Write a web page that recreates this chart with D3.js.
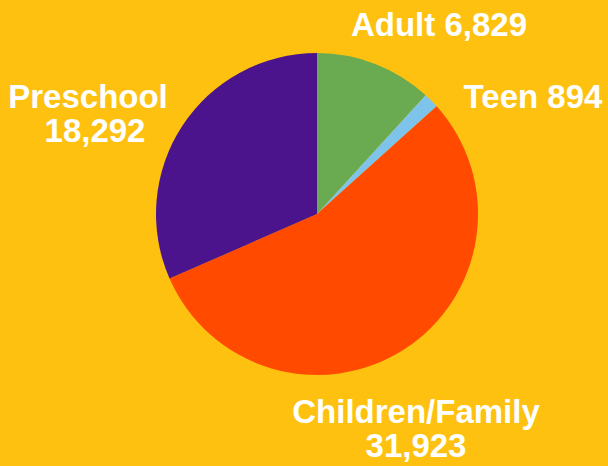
<!DOCTYPE html>
<html>
<head>
<meta charset="utf-8">
<script src="https://cdn.jsdelivr.net/npm/d3@7"></script>
<style>
  html, body { margin: 0; padding: 0; background: #FEC10F; }
  svg { display: block; }
  text { font-family: "Liberation Sans", Arial, Helvetica, sans-serif; font-weight: bold; fill: #ffffff; }
</style>
</head>
<body>
<svg id="chart" width="608" height="466"></svg>
<script>
const categories = ["Adult", "Teen", "Children/Family", "Preschool"];
const values = [6829, 894, 31923, 18292];
const colors = ["#6AAA50", "#7EC4EA", "#FF4A00", "#4B148C"];
// label lines: [category line, value line] per category
const labelLines = [
  ["Adult 6,829"],
  ["Teen 894"],
  ["Children/Family", "31,923"],
  ["Preschool", "18,292"]
];

const W = 608, H = 466;
const cx = 317, cy = 214, R = 161;
const svg = d3.select("#chart");
svg.append("rect").attr("width", W).attr("height", H).attr("fill", "#FEC10F");

const data = categories.map((c, i) => ({ cat: c, value: values[i], color: colors[i], lines: labelLines[i] }));
const pie = d3.pie().value(d => d.value).sort(null);
const arc = d3.arc().innerRadius(0).outerRadius(R);

const g = svg.append("g").attr("transform", `translate(${cx},${cy})`);
g.selectAll("path").data(pie(data)).join("path")
  .attr("d", arc)
  .attr("fill", d => d.data.color);

// label placement (layout only)
const labelPos = {
  "Adult": [{ x: 439, y: 36 }],
  "Teen": [{ x: 533, y: 108 }],
  "Children/Family": [{ x: 416, y: 423 }, { x: 416, y: 457 }],
  "Preschool": [{ x: 88, y: 108 }, { x: 95, y: 142 }]
};

data.forEach(d => {
  d.lines.forEach((line, j) => {
    const p = labelPos[d.cat][j];
    svg.append("text")
      .attr("x", p.x).attr("y", p.y)
      .attr("text-anchor", "middle")
      .attr("font-size", 33)
      .text(line);
  });
});
</script>
</body>
</html>
